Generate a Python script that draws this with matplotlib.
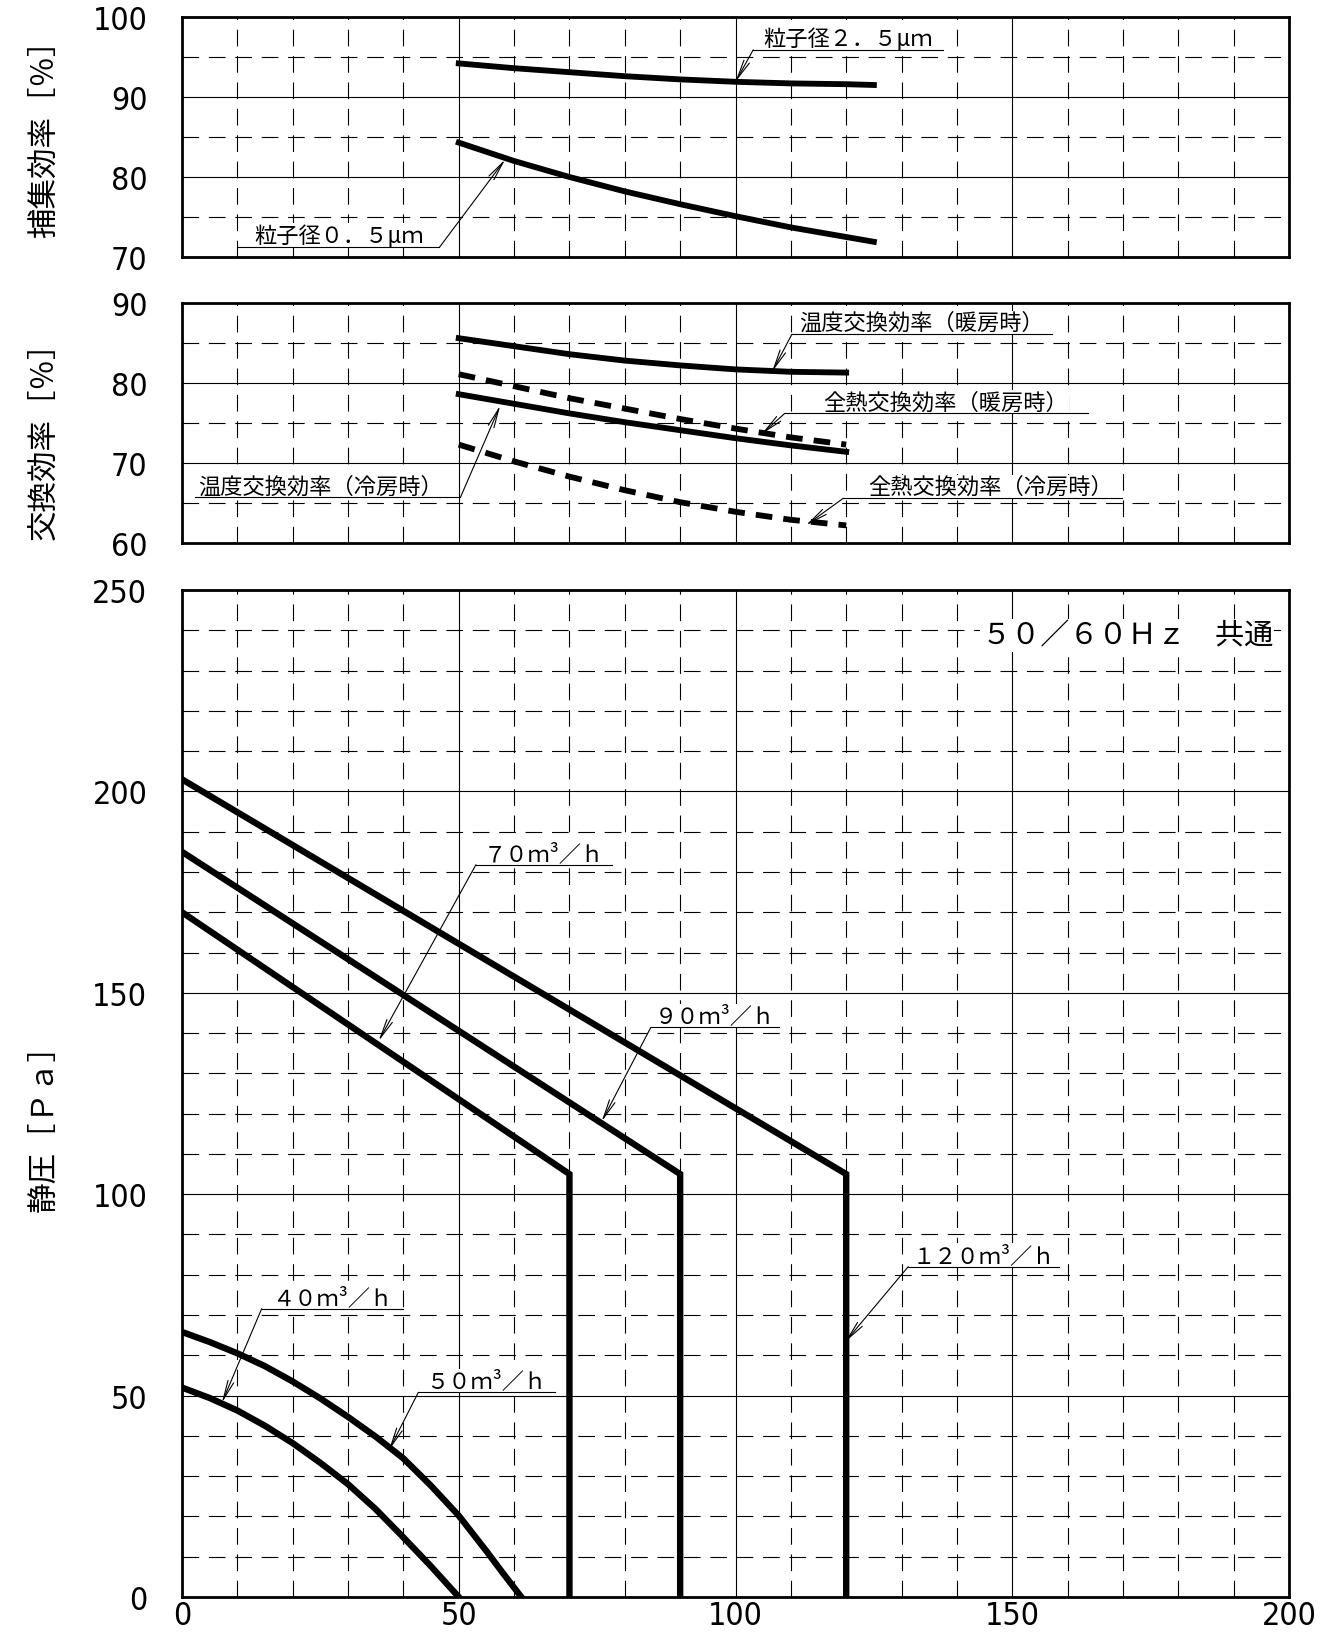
import numpy as np
import matplotlib
matplotlib.use("Agg")
import matplotlib.pyplot as plt
from matplotlib.ticker import MultipleLocator

plt.rcParams['font.family'] = ['Noto Sans CJK JP', 'DejaVu Sans']
plt.rcParams['lines.scale_dashes'] = False

# --- data ---
flow = [50, 60, 70, 80, 90, 100, 110, 120, 125]
coll_25 = [94.2, 93.6, 93.1, 92.6, 92.2, 91.9, 91.7, 91.6, 91.5]
coll_05 = [84.3, 82.0, 80.0, 78.2, 76.6, 75.1, 73.7, 72.5, 71.9]

flow2 = [50, 60, 70, 80, 90, 100, 110, 120]
temp_heat = [85.6, 84.6, 83.6, 82.8, 82.2, 81.7, 81.4, 81.3]
total_heat = [81.1, 79.6, 78.1, 76.8, 75.5, 74.3, 73.2, 72.3]
temp_cool = [78.6, 77.4, 76.2, 75.1, 74.1, 73.1, 72.2, 71.4]
total_cool = [72.3, 70.2, 68.3, 66.6, 65.1, 63.9, 62.9, 62.2]

q_40 = [0, 5, 10, 15, 20, 25, 30, 35, 40, 45, 50]
p_40 = [52.0, 49.4, 46.3, 42.5, 38.2, 33.3, 28.0, 21.8, 14.8, 7.6, 0]
q_50 = [0, 5, 10, 15, 20, 25, 30, 35, 40, 45, 50, 55, 58, 61.3]
p_50 = [65.8, 63.3, 60.5, 57.3, 53.5, 49.3, 44.7, 39.8, 34.4, 27.6, 20.2, 11.4, 5.9, 0]
q_70 = [0, 70, 70]
p_70 = [170, 105, 0]
q_90 = [0, 90, 90]
p_90 = [185, 105, 0]
q_120 = [0, 120, 120]
p_120 = [203, 105, 0]

W, H = 1326, 1640
fig = plt.figure(figsize=(W / 100, H / 100), dpi=100)

def box(top, bottom, left=182, right=1289):
    return [left / W, 1 - bottom / H, (right - left) / W, (bottom - top) / H]

ax1 = fig.add_axes(box(18, 258))
ax2 = fig.add_axes(box(304, 544))
ax3 = fig.add_axes(box(591, 1598))

dash_grid = (0, (12, 7))
dash_curve = (0, (12, 8))

def style(ax, ylo, yhi, ymaj, ymin, xlabels):
    ax.set_xlim(0, 200)
    ax.set_ylim(ylo, yhi)
    ax.xaxis.set_major_locator(MultipleLocator(50))
    ax.xaxis.set_minor_locator(MultipleLocator(10))
    ax.yaxis.set_major_locator(MultipleLocator(ymaj))
    ax.yaxis.set_minor_locator(MultipleLocator(ymin))
    ax.grid(which='major', color='black', lw=0.8, ls='-')
    ax.grid(which='minor', color='black', lw=0.8, ls=dash_grid)
    ax.set_axisbelow(True)
    ax.tick_params(which='both', length=0)
    ax.tick_params(axis='y', pad=25)
    ax.tick_params(axis='x', pad=2)
    for s in ax.spines.values():
        s.set_linewidth(2)
    for t in ax.get_yticklabels() + ax.get_xticklabels():
        t.set_family('DejaVu Sans')
        t.set_fontstretch('condensed')
        t.set_fontsize(23)
    if not xlabels:
        ax.set_xticklabels([])

style(ax1, 70, 100, 10, 5, False)
style(ax2, 60, 90, 10, 5, False)
style(ax3, 0, 250, 50, 10, True)

lab = dict(fontsize=16, zorder=4,
           bbox=dict(facecolor='white', edgecolor='none', pad=0.5))
arr = dict(arrowstyle='->, head_length=1.4, head_width=0.22', lw=0.8, color='black',
           shrinkA=0, shrinkB=0)

def leader(ax, text, x0, x1, y, start, tip, tx=None):
    ax.plot([x0, x1], [y, y], color='black', lw=0.8, zorder=6)
    ax.annotate('', xy=tip, xytext=start, arrowprops=arr, zorder=6)
    ax.text((x0 + x1) / 2 if tx is None else tx, y, text, ha='center', va='bottom', **lab)

# collection efficiency
ax1.plot(flow, coll_25, color='black', lw=4.2)
ax1.plot(flow, coll_05, color='black', lw=4.2)
leader(ax1, '粒子径２．５μｍ', 103.2, 137.5, 95.9, (103.2, 95.9), (100, 91.9))
leader(ax1, '粒子径０．５μｍ', 10.2, 46.5, 71.2, (46.5, 71.2), (58.4, 82.2))

# exchange efficiency
ax2.plot(flow2, temp_heat, color='black', lw=4.2)
ax2.plot(flow2, total_heat, color='black', lw=4.2, ls=dash_curve)
ax2.plot(flow2, temp_cool, color='black', lw=4.2)
ax2.plot(flow2, total_cool, color='black', lw=4.2, ls=dash_curve)
leader(ax2, '温度交換効率（暖房時）', 110.2, 157.1, 86.1, (110.2, 86.1), (106.6, 81.4))
leader(ax2, '全熱交換効率（暖房時）', 108.9, 163.7, 76.2, (108.9, 76.2), (104.7, 73.6), tx=138)
leader(ax2, '全熱交換効率（冷房時）', 119.5, 169.8, 65.6, (119.5, 65.6), (112.7, 62.2), tx=146)
leader(ax2, '温度交換効率（冷房時）', 2.3, 50.3, 65.7, (50.3, 65.7), (57.5, 77.2), tx=25)

# static pressure
for q, p in [(q_40, p_40), (q_50, p_50), (q_70, p_70), (q_90, p_90), (q_120, p_120)]:
    ax3.plot(q, p, color='black', lw=4.6, solid_joinstyle='miter')
leader(ax3, '７０ｍ³／ｈ', 53.1, 77.7, 181.8, (53.1, 181.8), (35.5, 138.0))
leader(ax3, '９０ｍ³／ｈ', 84.7, 107.9, 141.4, (84.7, 141.4), (75.8, 118.0))
leader(ax3, '１２０ｍ³／ｈ', 131.2, 158.4, 82.0, (131.2, 82.0), (119.8, 63.3))
leader(ax3, '４０ｍ³／ｈ', 14.4, 39.9, 71.6, (14.4, 71.6), (7.2, 48.2))
leader(ax3, '５０ｍ³／ｈ', 42.7, 67.3, 50.8, (42.7, 50.8), (37.4, 36.5))
ax3.text(170.8, 238.8, '５０／６０Ｈｚ　共通', ha='center', va='center', fontsize=21,
         bbox=dict(facecolor='white', edgecolor='none', pad=1))

# axis titles
fig.text(44 / W, 1 - 131 / H, '捕集効率［％］', rotation=90, ha='center', va='center', fontsize=22)
fig.text(44 / W, 1 - 433 / H, '交換効率［％］', rotation=90, ha='center', va='center', fontsize=22)
fig.text(44 / W, 1 - 1120 / H, '静圧［Ｐａ］', rotation=90, ha='center', va='center', fontsize=22)

fig.savefig('out.png', dpi=100)
